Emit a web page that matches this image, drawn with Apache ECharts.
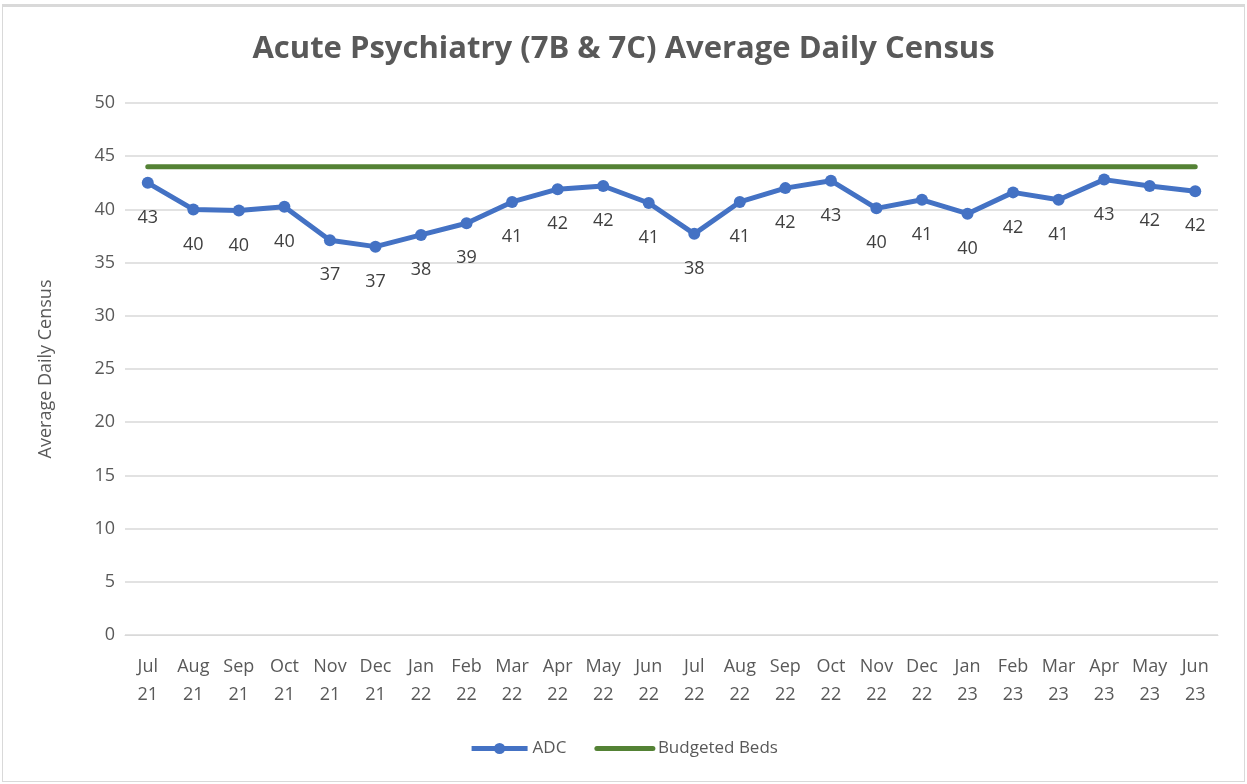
<!DOCTYPE html>
<html><head><meta charset="utf-8">
<script src="https://cdn.jsdelivr.net/npm/echarts@6/dist/echarts.min.js"></script>
<style>
html,body{margin:0;padding:0;background:#fff;}
#frame{position:absolute;left:2px;top:4px;width:1243px;height:778px;border:1px solid #d9d9d9;border-top:3px solid #d9d9d9;box-sizing:border-box;}
#c{position:absolute;left:0;top:0;width:1247px;height:784px;}
</style></head>
<body>
<div id="frame"></div>
<div id="c"></div>
<script>
const categories = ['Jul\n21','Aug\n21','Sep\n21','Oct\n21','Nov\n21','Dec\n21','Jan\n22','Feb\n22','Mar\n22','Apr\n22','May\n22','Jun\n22','Jul\n22','Aug\n22','Sep\n22','Oct\n22','Nov\n22','Dec\n22','Jan\n23','Feb\n23','Mar\n23','Apr\n23','May\n23','Jun\n23'];
const adc = [42.5,40.0,39.9,40.25,37.1,36.5,37.6,38.7,40.7,41.9,42.2,40.6,37.7,40.7,42.0,42.7,40.1,40.9,39.6,41.6,40.9,42.8,42.2,41.7];
const budgetedBeds = [44,44,44,44,44,44,44,44,44,44,44,44,44,44,44,44,44,44,44,44,44,44,44,44];
const yTicks = {min:0, max:50, interval:5};
const titleText = 'Acute Psychiatry (7B & 7C) Average Daily Census';
const yAxisName = 'Average Daily Census';

const chart = echarts.init(document.getElementById('c'), null, {renderer:'canvas'});
const font = '"Open Sans", "Liberation Sans", sans-serif';
chart.setOption({
  animation:false,
  backgroundColor:'transparent',
  title:{text:titleText,left:'center',top:29,textStyle:{fontFamily:font,fontSize:31,fontWeight:'bold',color:'#595959'}},
  legend:{bottom:22,left:'center',itemWidth:56,itemHeight:14,itemGap:28,
    textStyle:{fontFamily:font,fontSize:17,color:'#595959'},
    lineStyle:{width:5},
    data:[{name:'ADC'},{name:'Budgeted Beds',itemStyle:{opacity:0}}]},
  grid:{left:125,right:29,top:103,bottom:149,containLabel:false},
  xAxis:{type:'category',data:categories,boundaryGap:true,
    axisLine:{show:true,lineStyle:{color:'#d9d9d9',width:1}},
    axisTick:{show:false},
    axisLabel:{interval:0,fontFamily:font,fontSize:18,color:'#595959',lineHeight:28,margin:18}},
  yAxis:{type:'value',min:yTicks.min,max:yTicks.max,interval:yTicks.interval,
    name:yAxisName,nameLocation:'middle',nameGap:70,nameRotate:90,
    nameTextStyle:{fontFamily:font,fontSize:18,color:'#595959'},
    axisLine:{show:false},axisTick:{show:false},
    axisLabel:{fontFamily:font,fontSize:18,color:'#595959',margin:10},
    splitLine:{lineStyle:{color:'#d9d9d9',width:1.5}}},
  series:[
    {name:'ADC',type:'line',data:adc,symbol:'circle',symbolSize:12,
      itemStyle:{color:'#4472C4'},lineStyle:{color:'#4472C4',width:5},
      label:{show:true,position:'bottom',distance:20,fontFamily:font,fontSize:18,color:'#404040',
        formatter:p=>Math.round(p.value)},z:3},
    {name:'Budgeted Beds',type:'line',data:budgetedBeds,symbol:'none',
      itemStyle:{color:'#548235'},lineStyle:{color:'#548235',width:5,cap:'round'},z:2}
  ]
});
</script>
</body></html>
